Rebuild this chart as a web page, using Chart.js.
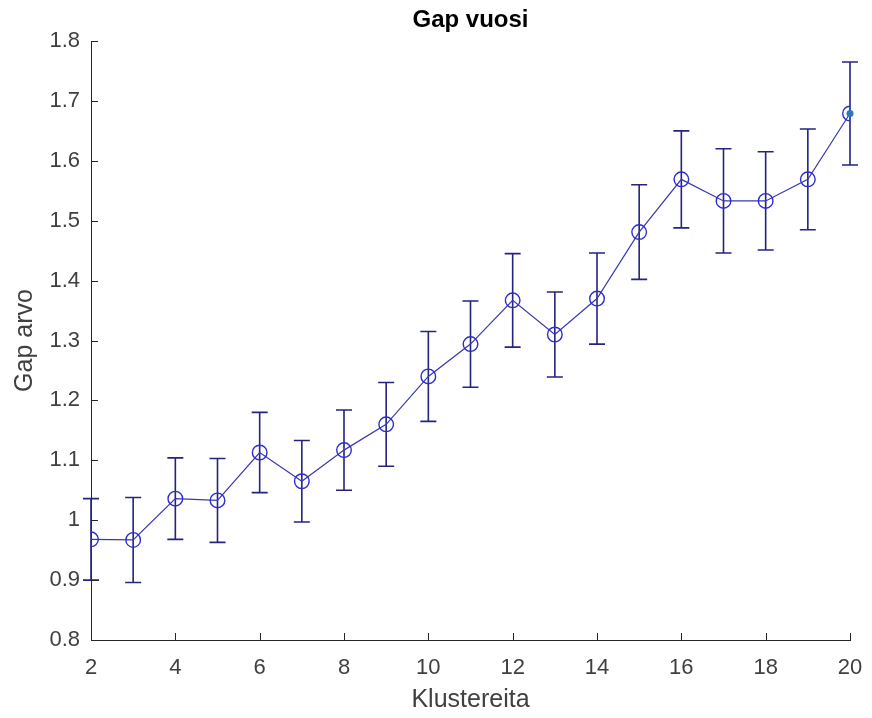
<!DOCTYPE html>
<html>
<head>
<meta charset="utf-8">
<script src="https://cdn.jsdelivr.net/npm/chart.js"></script>
<style>
  html, body { margin: 0; padding: 0; background: #fff; }
  #wrap { width: 872px; height: 718px; }
</style>
</head>
<body>
<div id="wrap"><canvas id="gap-chart" width="872" height="718"></canvas></div>
<script>
// Gap statistic per cluster count
const clusters = [2, 3, 4, 5, 6, 7, 8, 9, 10, 11, 12, 13, 14, 15, 16, 17, 18, 19, 20];
const gapValues = [0.968, 0.967, 1.036, 1.033, 1.113, 1.065, 1.117, 1.160, 1.240, 1.294,
                   1.367, 1.310, 1.370, 1.481, 1.569, 1.533, 1.533, 1.569, 1.679];
const gapErrors = [0.068, 0.071, 0.068, 0.070, 0.067, 0.068, 0.067, 0.070, 0.075, 0.072,
                   0.078, 0.071, 0.076, 0.079, 0.081, 0.087, 0.082, 0.084, 0.086];

const xTickValues = [2, 4, 6, 8, 10, 12, 14, 16, 18, 20];
const xTickLabels = ['2', '4', '6', '8', '10', '12', '14', '16', '18', '20'];
const yTickValues = [0.8, 0.9, 1.0, 1.1, 1.2, 1.3, 1.4, 1.5, 1.6, 1.7, 1.8];
const yTickLabels = ['0.8', '0.9', '1', '1.1', '1.2', '1.3', '1.4', '1.5', '1.6', '1.7', '1.8'];

const axisColor = '#262626';
const labelColor = '#404040';

// Draw vertical error bars with caps, plus inward tick marks like MATLAB
const errorBarPlugin = {
    id: 'errorBars',
    beforeDatasetsDraw(chart) {
        const { ctx, scales: { x, y } } = chart;
        ctx.save();
        ctx.strokeStyle = '#24247e';
        ctx.lineWidth = 1.6;
        clusters.forEach((c, i) => {
            const px = x.getPixelForValue(c);
            const top = y.getPixelForValue(gapValues[i] + gapErrors[i]);
            const bottom = y.getPixelForValue(gapValues[i] - gapErrors[i]);
            ctx.beginPath();
            ctx.moveTo(px, top);
            ctx.lineTo(px, bottom);
            ctx.moveTo(px - 8, top);
            ctx.lineTo(px + 8, top);
            ctx.moveTo(px - 8, bottom);
            ctx.lineTo(px + 8, bottom);
            ctx.stroke();
        });
        ctx.restore();
    },
    afterDatasetsDraw(chart) {
        const { ctx, scales: { x, y } } = chart;
        const last = clusters.length - 1;
        ctx.save();
        // highlighted last point
        ctx.fillStyle = '#2a78b8';
        ctx.beginPath();
        ctx.arc(x.getPixelForValue(clusters[last]), y.getPixelForValue(gapValues[last]), 3.5, 0, Math.PI * 2);
        ctx.fill();

        // inward ticks
        ctx.strokeStyle = axisColor;
        ctx.lineWidth = 1;
        const area = chart.chartArea;
        ctx.beginPath();
        xTickValues.forEach(v => {
            const px = Math.round(x.getPixelForValue(v)) + 0.5;
            ctx.moveTo(px, area.bottom);
            ctx.lineTo(px, area.bottom - 7);
        });
        yTickValues.forEach(v => {
            const py = Math.round(y.getPixelForValue(v)) + 0.5;
            ctx.moveTo(area.left, py);
            ctx.lineTo(area.left + 7, py);
        });
        ctx.stroke();
        ctx.restore();
    }
};

const ctx = document.getElementById('gap-chart').getContext('2d');
new Chart(ctx, {
    type: 'line',
    data: {
        datasets: [{
            label: 'Gap',
            data: clusters.map((c, i) => ({ x: c, y: gapValues[i] })),
            borderColor: '#3838b4',
            borderWidth: 1.2,
            pointStyle: 'circle',
            pointRadius: 7.3,
            pointBorderWidth: 1.4,
            pointBorderColor: '#2c2cd0',
            pointBackgroundColor: 'rgba(0,0,0,0)',
            tension: 0
        }]
    },
    options: {
        responsive: false,
        animation: false,
        layout: { padding: { left: 0, right: 22, top: 0, bottom: 0 } },
        scales: {
            x: {
                type: 'linear',
                min: 2,
                max: 20,
                afterBuildTicks: scale => { scale.ticks = xTickValues.map(v => ({ value: v })); },
                afterFit: scale => {
                    scale.height = 78;
                    scale.paddingLeft = 0;
                    scale.paddingRight = 0;
                },
                grid: { display: false, drawTicks: false },
                border: { display: true, color: axisColor, width: 1 },
                ticks: {
                    padding: 15,
                    color: labelColor,
                    font: { family: 'Liberation Sans', size: 22 },
                    maxRotation: 0,
                    callback: (v, i) => xTickLabels[i]
                },
                title: {
                    display: true,
                    text: 'Klustereita',
                    color: labelColor,
                    font: { family: 'Liberation Sans', size: 25 },
                    padding: { top: 0, bottom: 3 }
                }
            },
            y: {
                type: 'linear',
                min: 0.8,
                max: 1.8,
                afterBuildTicks: scale => { scale.ticks = yTickValues.map(v => ({ value: v })); },
                afterFit: scale => { scale.width = 91; },
                grid: { display: false, drawTicks: false },
                border: { display: true, color: axisColor, width: 1 },
                ticks: {
                    padding: 11,
                    color: labelColor,
                    font: { family: 'Liberation Sans', size: 22 },
                    callback: (v, i) => yTickLabels[i]
                },
                title: {
                    display: true,
                    text: 'Gap arvo',
                    color: labelColor,
                    font: { family: 'Liberation Sans', size: 25 },
                    padding: { top: 10, bottom: 0 }
                }
            }
        },
        plugins: {
            legend: { display: false },
            tooltip: { enabled: false },
            title: {
                display: true,
                text: 'Gap vuosi',
                fullSize: false,
                color: '#000',
                font: { family: 'Liberation Sans', size: 24, weight: 'bold' },
                padding: { top: 5.6, bottom: 6.6 }
            }
        }
    },
    plugins: [errorBarPlugin]
});
</script>
</body>
</html>
